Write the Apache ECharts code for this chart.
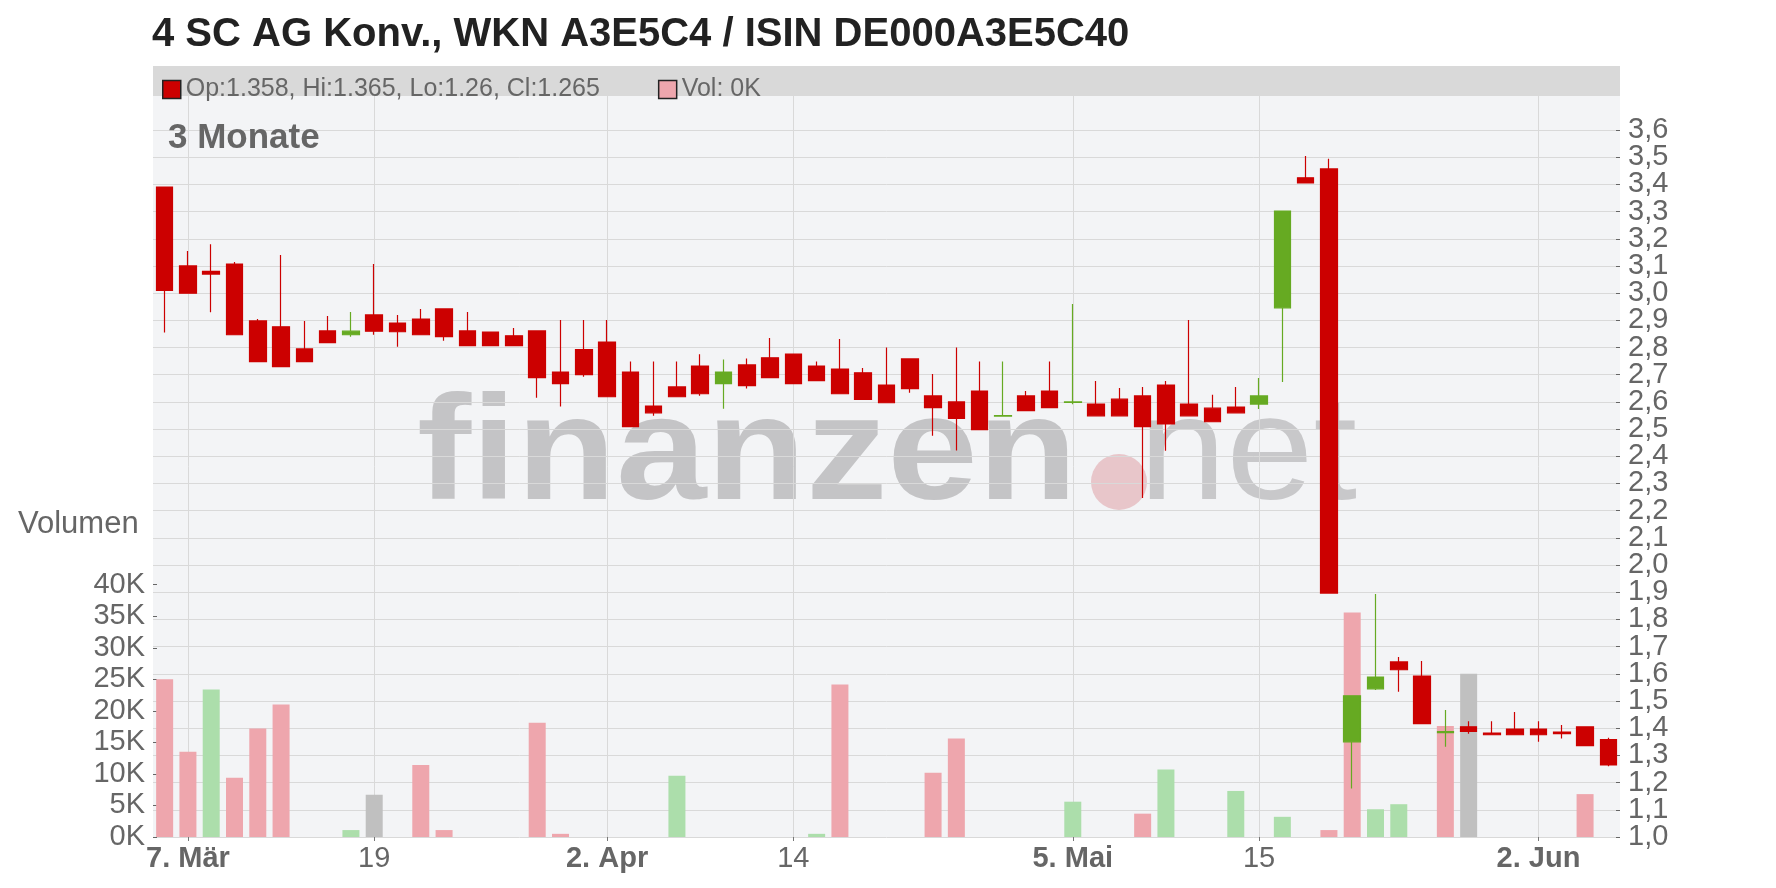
<!DOCTYPE html>
<html>
<head>
<meta charset="utf-8">
<script src="https://cdn.jsdelivr.net/npm/echarts@6/dist/echarts.min.js"></script>
<style>html,body{margin:0;padding:0;background:#fff}#c{width:1776px;height:888px}</style>
</head>
<body>
<div id="c"></div>
<script>
// ---- data ----
const categories = ['2025-03-06','2025-03-07','2025-03-10','2025-03-11','2025-03-12','2025-03-13','2025-03-14','2025-03-17','2025-03-18','2025-03-19','2025-03-20','2025-03-21','2025-03-24','2025-03-25','2025-03-26','2025-03-27','2025-03-28','2025-03-31','2025-04-01','2025-04-02','2025-04-03','2025-04-04','2025-04-07','2025-04-08','2025-04-09','2025-04-10','2025-04-11','2025-04-14','2025-04-15','2025-04-16','2025-04-17','2025-04-22','2025-04-23','2025-04-24','2025-04-25','2025-04-28','2025-04-29','2025-04-30','2025-05-02','2025-05-05','2025-05-06','2025-05-07','2025-05-08','2025-05-09','2025-05-12','2025-05-13','2025-05-14','2025-05-15','2025-05-16','2025-05-19','2025-05-20','2025-05-21','2025-05-22','2025-05-23','2025-05-26','2025-05-27','2025-05-28','2025-05-29','2025-05-30','2025-06-02','2025-06-03','2025-06-04','2025-06-05'];
const openP  = [3.39,3.10,3.08,3.107,2.898,2.876,2.795,2.861,2.847,2.92,2.89,2.905,2.942,2.861,2.857,2.843,2.861,2.71,2.792,2.82,2.71,2.585,2.655,2.732,2.667,2.736,2.762,2.776,2.732,2.721,2.707,2.662,2.758,2.622,2.60,2.64,2.548,2.622,2.64,2.598,2.592,2.61,2.622,2.662,2.592,2.577,2.581,2.592,2.946,3.424,3.457,1.35,1.545,1.644,1.592,1.384,1.405,1.382,1.397,1.397,1.386,1.405,1.358];
const closeP = [3.01,3.00,3.07,2.847,2.748,2.73,2.748,2.818,2.86,2.86,2.858,2.847,2.84,2.807,2.807,2.807,2.689,2.667,2.70,2.619,2.509,2.56,2.619,2.63,2.71,2.66,2.689,2.667,2.678,2.63,2.609,2.597,2.649,2.579,2.539,2.498,2.55,2.568,2.579,2.60,2.549,2.549,2.509,2.519,2.549,2.527,2.56,2.622,3.302,3.405,1.897,1.519,1.588,1.615,1.417,1.388,1.388,1.376,1.376,1.376,1.38,1.336,1.265];
const lowP   = [2.855,3.00,2.93,2.847,2.748,2.73,2.748,2.818,2.84,2.847,2.803,2.847,2.825,2.807,2.807,2.807,2.615,2.583,2.693,2.619,2.509,2.549,2.619,2.623,2.575,2.649,2.689,2.667,2.678,2.63,2.609,2.597,2.634,2.476,2.421,2.498,2.548,2.568,2.579,2.591,2.549,2.549,2.247,2.42,2.549,2.527,2.56,2.574,2.673,3.405,1.897,1.178,1.541,1.534,1.417,1.332,1.38,1.376,1.376,1.35,1.362,1.336,1.26];
const highP  = [3.39,3.155,3.18,3.115,2.905,3.14,2.898,2.916,2.931,3.107,2.92,2.942,2.942,2.931,2.857,2.872,2.861,2.901,2.901,2.901,2.749,2.749,2.749,2.775,2.756,2.76,2.835,2.776,2.749,2.831,2.725,2.80,2.758,2.703,2.80,2.749,2.749,2.64,2.749,2.96,2.677,2.651,2.655,2.677,2.901,2.626,2.655,2.688,3.302,3.504,3.494,1.519,1.894,1.662,1.647,1.467,1.426,1.426,1.46,1.426,1.412,1.405,1.365];
const volume = [25000,13500,23400,9400,17200,21000,0,0,1100,6700,0,11400,1100,0,0,0,18100,500,0,0,0,0,9700,0,0,0,0,0,500,24200,0,0,0,10200,15600,0,0,0,0,5600,0,0,3700,10700,0,0,7300,0,3200,0,1100,35600,4400,5200,0,17600,25900,0,0,0,0,6800,0];
const tickDates  = ['2025-03-07','2025-03-19','2025-04-02','2025-04-14','2025-05-05','2025-05-15','2025-06-02'];
const tickLabels = ['7. Mär','19','2. Apr','14','5. Mai','15','2. Jun'];
const tickBold   = [true,false,true,false,true,false,true];
const priceTicks = [1.0,1.1,1.2,1.3,1.4,1.5,1.6,1.7,1.8,1.9,2.0,2.1,2.2,2.3,2.4,2.5,2.6,2.7,2.8,2.9,3.0,3.1,3.2,3.3,3.4,3.5,3.6];
const volTicks   = [0,5000,10000,15000,20000,25000,30000,35000,40000];
const titleText  = '4 SC AG Konv., WKN A3E5C4 / ISIN DE000A3E5C40';
const legendCandle = 'Op:1.358, Hi:1.365, Lo:1.26, Cl:1.265';
const legendVol    = 'Vol: 0K';

// ---- styles ----
const RED = '#cc0000', GREEN = '#66aa22';
const V_DOWN = '#eea6ad', V_UP = '#acdeab', V_FLAT = '#c0c0c0';
const FONT = '"Liberation Sans", Arial, sans-serif';
const GRID_COLOR = '#d9d9d9';

const candleData = categories.map((d, i) => [openP[i], closeP[i], lowP[i], highP[i]]);
const volData = volume.map((v, i) => {
  let c = V_DOWN;
  if (i > 0) {
    if (closeP[i] > closeP[i - 1]) c = V_UP;
    else if (closeP[i] === closeP[i - 1]) c = V_FLAT;
  }
  return { value: v, itemStyle: { color: c } };
});
const isTick = (idx, val) => tickDates.indexOf(val !== undefined ? val : categories[idx]) >= 0;
// price labels are split over two overlaid axes so that none get auto-hidden
const priceLabelsA = priceTicks.filter((v, i) => i % 2 === 0);
const priceLabelsB = priceTicks.filter((v, i) => i % 2 === 1);
const priceFmt = (v) => v.toFixed(1).replace('.', ',');
const PRICE_MIN = 1.0, PRICE_MAX = 3.725;

const L = 153, T = 96, R = 1620, B = 837;

const priceLabelStyle = { showMinLabel: true, showMaxLabel: true, hideOverlap: false,
  margin: 8, color: '#666', fontSize: 29, fontFamily: FONT, formatter: priceFmt };

const chart = echarts.init(document.getElementById('c'), null, { renderer: 'canvas' });
chart.setOption({
  animation: false,
  backgroundColor: '#ffffff',
  textStyle: { fontFamily: FONT },
  legend: {
    left: 157, top: 72, itemWidth: 18, itemHeight: 18, itemGap: 58,
    selectedMode: false,
    textStyle: { fontSize: 25, color: '#666', fontFamily: FONT },
    data: [
      { name: legendCandle, icon: 'rect', itemStyle: { color: RED, borderColor: '#222', borderWidth: 1.5 } },
      { name: legendVol, icon: 'rect', itemStyle: { color: V_DOWN, borderColor: '#222', borderWidth: 1.5 } }
    ]
  },
  grid: { left: L, top: T, width: R - L, height: B - T, outerBoundsMode: 'none', containLabel: false },
  xAxis: {
    type: 'category', data: categories, boundaryGap: true,
    axisLine: { show: false },
    axisTick: { show: true, interval: isTick, alignWithLabel: true, length: 4, lineStyle: { color: '#777' } },
    splitLine: { show: true, interval: isTick, alignWithLabel: true, lineStyle: { color: GRID_COLOR, width: 1 } },
    axisLabel: {
      interval: isTick, margin: 7, color: '#666', fontSize: 29, fontFamily: FONT,
      formatter: (val) => {
        const k = tickDates.indexOf(val);
        if (k < 0) return '';
        return tickBold[k] ? '{b|' + tickLabels[k] + '}' : '{n|' + tickLabels[k] + '}';
      },
      rich: {
        b: { fontWeight: 'bold', fontSize: 29, color: '#666', fontFamily: FONT },
        n: { fontWeight: 'normal', fontSize: 29, color: '#666', fontFamily: FONT }
      }
    }
  },
  yAxis: [
    {
      type: 'value', position: 'left', min: 0, max: 117500,
      axisLine: { show: false },
      splitLine: { show: false },
      axisTick: { show: true, inside: true, length: 4, customValues: volTicks, lineStyle: { color: '#666' } },
      axisLabel: { customValues: volTicks, showMinLabel: true, showMaxLabel: true, hideOverlap: false,
        margin: 8, color: '#666', fontSize: 29, fontFamily: FONT,
        formatter: (v) => (v / 1000) + 'K' }
    },
    {
      type: 'value', position: 'right', min: PRICE_MIN, max: PRICE_MAX,
      axisLine: { show: false },
      splitLine: { show: true, lineStyle: { color: GRID_COLOR, width: 1 } },
      axisTick: { show: true, inside: true, length: 4, customValues: priceTicks, lineStyle: { color: '#666' } },
      axisLabel: Object.assign({ customValues: priceLabelsA }, priceLabelStyle)
    },
    {
      type: 'value', position: 'right', offset: 0, min: PRICE_MIN, max: PRICE_MAX,
      axisLine: { show: false },
      splitLine: { show: false },
      axisTick: { show: false },
      axisLabel: Object.assign({ customValues: priceLabelsB }, priceLabelStyle)
    }
  ],
  series: [
    {
      name: legendVol, type: 'bar', xAxisIndex: 0, yAxisIndex: 0,
      data: volData, barWidth: 17, z: 2
    },
    {
      name: legendCandle, type: 'candlestick', xAxisIndex: 0, yAxisIndex: 1,
      data: candleData, barWidth: 17, z: 3,
      itemStyle: { color: GREEN, color0: RED, borderColor: GREEN, borderColor0: RED, borderWidth: 1.2 }
    }
  ],
  graphic: {
    elements: [
      { type: 'rect', z: -10, silent: true, shape: { x: L, y: T, width: R - L, height: B - T }, style: { fill: '#f3f4f6' } },
      { type: 'rect', z: -10, silent: true, shape: { x: L, y: 66, width: R - L, height: 30 }, style: { fill: '#d9d9d9' } },
      { type: 'text', z: -5, silent: true, x: 417, y: 458, scaleX: 1.1, scaleY: 1,
        style: { text: 'finanzen', x: 0, y: 0, font: 'bold 148px ' + FONT, fill: '#c4c4c6', verticalAlign: 'middle' } },
      { type: 'circle', z: -5, silent: true, shape: { cx: 1119, cy: 482, r: 28 }, style: { fill: '#e8c6ca' } },
      { type: 'text', z: -5, silent: true, x: 1139, y: 458, scaleX: 1.06, scaleY: 1,
        style: { text: 'net', x: 0, y: 0, font: '148px ' + FONT, fill: '#c8c8ca', verticalAlign: 'middle' } },
      { type: 'text', z: 10, silent: true, style: { text: titleText, x: 152, y: 35, font: 'bold 40px ' + FONT, fill: '#222', verticalAlign: 'middle' } },
      { type: 'text', z: 10, silent: true, style: { text: '3 Monate', x: 168, y: 138, font: 'bold 35px ' + FONT, fill: '#666', verticalAlign: 'middle' } },
      { type: 'text', z: 10, silent: true, style: { text: 'Volumen', x: 18, y: 524, font: '31px ' + FONT, fill: '#666', verticalAlign: 'middle' } }
    ]
  }
});
</script>
</body>
</html>
